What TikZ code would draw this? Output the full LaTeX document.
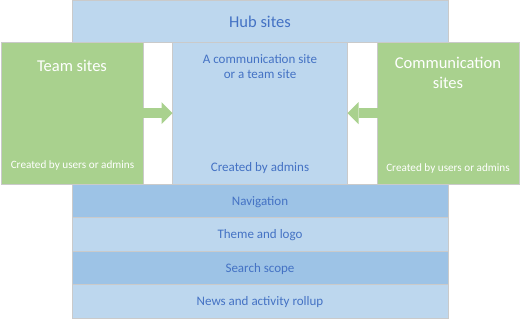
\documentclass[tikz,border=0pt]{standalone}
\usepackage{fontspec}
\setmainfont{Carlito}
\usetikzlibrary{arrows.meta, positioning}
\definecolor{hubblue}{HTML}{BDD7EE}
\definecolor{barblue}{HTML}{9DC3E6}
\definecolor{sitegreen}{HTML}{A9D18E}
\definecolor{textblue}{HTML}{4472C4}
\definecolor{edgegray}{HTML}{CACACA}
\tikzset{
  px/.style={x=1pt, y=-1pt},
  box/.style={draw=edgegray, line width=0.8pt, anchor=north west, inner sep=0pt, outer sep=0pt},
  hubbox/.style={box, fill=hubblue},
  sitebox/.style={box, fill=sitegreen},
  barbox/.style={box, text=textblue, font=\fontsize{13}{15}\selectfont, text height=11pt, text depth=2pt},
  bigtext/.style={font=\fontsize{16.5}{19.5}\selectfont, inner sep=0pt, align=center},
  smalltext/.style={font=\fontsize{13}{15}\selectfont, inner sep=0pt, align=center, text=textblue},
  notetext/.style={font=\fontsize{11.2}{13}\selectfont, inner sep=0pt, text=white},
  % green block arrows between the boxes
  fatarrow/.style={sitegreen, line width=10pt, -{Triangle[length=11pt, width=22pt, line width=0pt]}},
}

\begin{document}
\begin{tikzpicture}[px]
  \useasboundingbox (0,0) rectangle (520,319);
  \node[hubbox, minimum width=376, minimum height=42] (hub) at (72,0) {};
  \node[sitebox, minimum width=142, minimum height=142] (team) at (1,42) {};
  \node[hubbox, minimum width=175, minimum height=142] (center) at (172.5,42) {};
  \node[sitebox, minimum width=141.5, minimum height=142] (comm) at (377.5,42) {};
  % shared hub features
  \foreach \t/\c/\y [count=\i] in {Navigation/barblue/184, Theme and logo/hubblue/217.5,
                                   Search scope/barblue/251, News and activity rollup/hubblue/284.5}
    \node[barbox, fill=\c, minimum width=376, minimum height=33.5] (bar\i) at (72,\y) {\t};
  \draw[fatarrow] (team.east) -- (center.west);
  \draw[fatarrow] (comm.west) -- (center.east);
  % texts (base of a two-line node is its last line)
  \node[bigtext, anchor=base, text=textblue] (hubtitle) at (260,27.3) {Hub sites};
  \node[bigtext, anchor=base, text=white] (teamtitle) at (72,71.5) {Team sites};
  \node[bigtext, anchor=base, text=white] (commtitle) at (448,88.3) {Communication\\sites};
  \node[smalltext, anchor=base] (centertitle) at (260,78.3) {A communication site\\or a team site};
  \node[notetext, anchor=base] (teamnote) at (72.5,168) {Created by users or admins};
  \node[notetext, anchor=base] (commnote) at (448,171) {Created by users or admins};
  \node[smalltext, anchor=base] (centernote) at (260,171.5) {Created by admins};
\end{tikzpicture}
\end{document}
